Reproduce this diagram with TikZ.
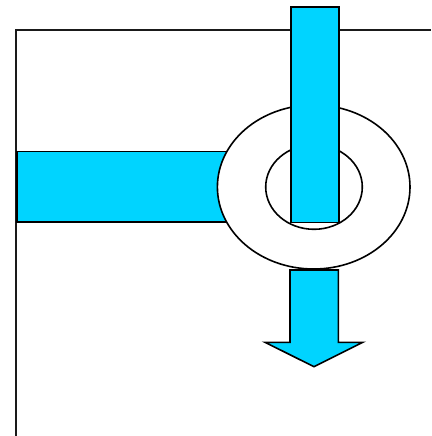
\documentclass[tikz,border=0pt]{standalone}
\usetikzlibrary{shapes.geometric,positioning,calc}
\definecolor{FL}{HTML}{00D4FF}
\definecolor{LN}{HTML}{1A1A1A}

\begin{document}
\begin{tikzpicture}[x=1pt,y=-1pt,
    bar/.style={draw=black, fill=FL, line width=1.6pt, inner sep=0pt},
    ringline/.style={draw=black, line width=1.6pt, ellipse, inner sep=0pt}]
  \useasboundingbox (0,0) rectangle (431,436);
  % frame
  \coordinate (corner) at (16,30);
  \coordinate (frameright) at (431,30);
  \coordinate (framebottom) at (16,436);
  \draw[LN, line width=1.6pt] (framebottom) -- (corner) -- (frameright);
  % side inflow
  \node[bar, anchor=north west, minimum width=224pt, minimum height=70.5pt] (sidebar) at (16,150.5) {};
  % ring and hole
  \node[ringline, fill=white, minimum width=192.6pt, minimum height=164pt] (ring) at (313.7,187) {};
  \node[ringline, minimum width=96.6pt, minimum height=84.6pt] (hole) at (314,187) {};
  % top inflow
  \node[bar, anchor=north west, minimum width=48.3pt, minimum height=215.5pt] (topbar) at (290,6) {};
  % outflow arrow
  \coordinate (out) at (314,270);
  \draw[bar] ($(out)+(-24,0)$) -- ($(out)+(24.3,0)$) -- ($(out)+(24.3,72.3)$)
    -- ($(out)+(48.7,72.3)$) -- ($(out)+(0,96.7)$) -- ($(out)+(-49,72.3)$)
    -- ($(out)+(-24,72.3)$) -- cycle;
\end{tikzpicture}
\end{document}
